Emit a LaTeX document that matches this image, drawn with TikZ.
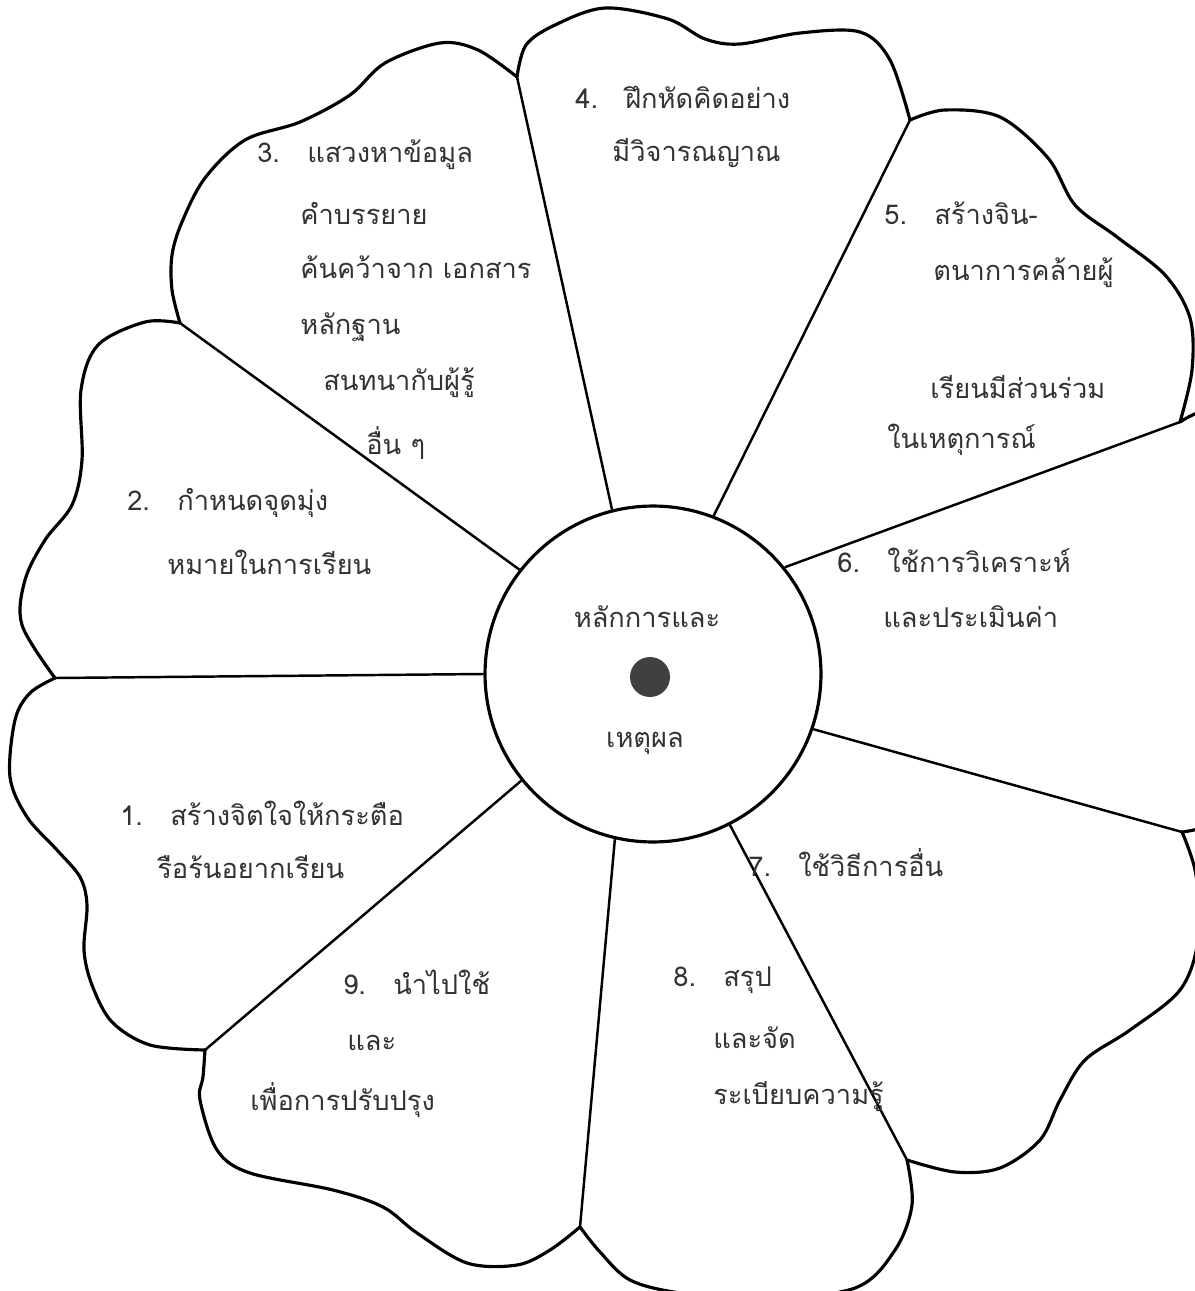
\documentclass[tikz,border=0pt]{standalone}
\usepackage{fontspec}
\newfontfamily\thaifont[Script=Thai]{Loma}
\begin{document}
\begin{tikzpicture}[
    x=0.02cm, y=-0.02cm,
    petal/.style = {line width=1.8pt, line join=round, line cap=round},
    spoke/.style = {line width=1.4pt},
    hubcircle/.style = {circle, draw, line width=1.8pt, minimum size=6.72cm, inner sep=0pt},
    itemtext/.style = {anchor=west, inner sep=0pt, text=black!80, font=\thaifont\fontsize{15.5}{18}\selectfont}
  ]
  \useasboundingbox (0,0) rectangle (1195,1291);
  \clip (0,0) rectangle (1195,1291);

  \node[hubcircle] (hub) at (653,674) {};
  \fill[black!75] (650,677) circle (20);
  \node[itemtext, anchor=center] (hubtop) at (647,617) {หลักการและ};
  \node[itemtext, anchor=center] (hubbot) at (645,743) {เหตุผล};

  \coordinate (j12) at (55,678);
  \coordinate (j23) at (180,323);
  \coordinate (j34) at (517,77);
  \coordinate (j45) at (910,120);
  \coordinate (j56) at (1180,422);
  \coordinate (j67) at (1182,832);
  \coordinate (j78) at (907,1160);
  \coordinate (j89) at (580,1227);
  \coordinate (j91) at (205,1050);

  \foreach \a/\j in {180/j12,142/j23,104/j34,69/j45,39/j56,-19/j67,-63/j78,-103/j89,-141/j91}
    \draw[spoke] (hub.\a) -- (\j);

  \draw[petal] plot[smooth, tension=0.55] coordinates {(j12) (30,693) (15,720) (10,777) (27,817) (57,850) (80,877) (87,905) (84,950) (92,985) (112,1022) (150,1045) (j91)};
  \draw[petal] plot[smooth, tension=0.55] coordinates {(j12) (22,625) (25,580) (45,540) (72,505) (82,460) (81,390) (98,345) (145,322) (j23)};
  \draw[petal] plot[smooth, tension=0.55] coordinates {(j23) (172,290) (172,255) (182,222) (205,178) (245,140) (300,122) (350,95) (385,63) (440,43) (478,50) (j34)};
  \draw[petal] plot[smooth, tension=0.55] coordinates {(j34) (526,45) (555,25) (605,8) (668,19) (705,39) (740,44) (800,33) (860,32) (890,60) (j45)};
  \draw[petal] plot[smooth, tension=0.55] coordinates {(j45) (945,110) (1000,117) (1048,158) (1075,205) (1117,237) (1165,275) (1190,318) (1192,370) (j56)};
  \draw[petal] plot[smooth, tension=0.55] coordinates {(j56) (1220,412) (1260,480) (1255,640) (1262,780) (1215,822) (j67)};
  \draw[petal] plot[smooth, tension=0.55] coordinates {(j67) (1196,875) (1198,940) (1180,990) (1130,1030) (1085,1060) (1060,1100) (1040,1140) (1000,1168) (955,1172) (j78)};
  \draw[petal] plot[smooth, tension=0.55] coordinates {(j78) (912,1205) (895,1250) (855,1288) (760,1300) (680,1293) (630,1280) (600,1252) (j89)};
  \draw[petal] plot[smooth, tension=0.55] coordinates {(j89) (550,1250) (517,1265) (467,1263) (417,1233) (383,1207) (333,1190) (250,1173) (217,1150) (200,1100) (203,1077) (j91)};

  \node[itemtext] (t1a) at (120,813) {1.\hspace{1em}สร้างจิตใจให้กระตือ};
  \node[itemtext] (t1b) at (157,867) {รือร้นอยากเรียน};

  \node[itemtext] (t2a) at (127,503) {2.\hspace{1em}กำหนดจุดมุ่ง};
  \node[itemtext] (t2b) at (167,562) {หมายในการเรียน};

  \node[itemtext] (t3a) at (257,155) {3.\hspace{1em}แสวงหาข้อมูล};
  \node[itemtext] (t3b) at (300,213) {คำบรรยาย};
  \node[itemtext] (t3c) at (300,267) {ค้นคว้าจาก เอกสาร};
  \node[itemtext] (t3d) at (300,327) {หลักฐาน};
  \node[itemtext] (t3e) at (323,383) {สนทนากับผู้รู้};
  \node[itemtext] (t3f) at (366,443) {อื่น ๆ};

  \node[itemtext] (t4a) at (575,97) {4.\hspace{1em}ฝึกหัดคิดอย่าง};
  \node[itemtext] (t4b) at (612,153) {มีวิจารณญาณ};

  \node[itemtext] (t5a) at (884,213) {5.\hspace{1em}สร้างจิน-};
  \node[itemtext] (t5b) at (933,273) {ตนาการคล้ายผู้};
  \node[itemtext] (t5c) at (930,387) {เรียนมีส่วนร่วม};
  \node[itemtext] (t5d) at (887,440) {ในเหตุการณ์};

  \node[itemtext] (t6a) at (837,560) {6.\hspace{1em}ใช้การวิเคราะห์};
  \node[itemtext] (t6b) at (883,617) {และประเมินค่า};

  \node[itemtext] (t7a) at (748,863) {7.\hspace{1em}ใช้วิธีการอื่น};

  \node[itemtext] (t8a) at (673,980) {8.\hspace{1em}สรุป};
  \node[itemtext] (t8b) at (713,1038) {และจัด};
  \node[itemtext] (t8c) at (713,1097) {ระเบียบความรู้};

  \node[itemtext] (t9a) at (343,982) {9.\hspace{1em}นำไปใช้};
  \node[itemtext] (t9b) at (347,1043) {และ};
  \node[itemtext] (t9c) at (250,1100) {เพื่อการปรับปรุง};
\end{tikzpicture}
\end{document}
